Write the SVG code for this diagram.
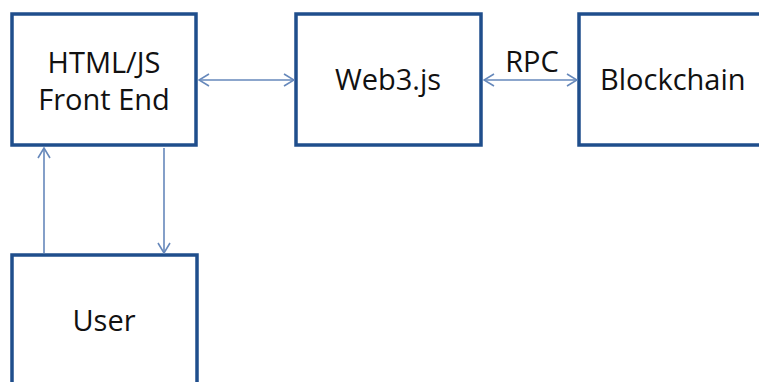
<svg xmlns="http://www.w3.org/2000/svg" width="759" height="382" viewBox="0 0 759 382">
<defs>
<style>
.box{fill:#fff;stroke:#1f4e8c;stroke-width:3.5}
.lbl{font-family:"Open Sans","Liberation Sans",sans-serif;font-size:29px;fill:#111}
.conn{stroke:#6688bb;stroke-width:1.6;fill:none}
</style>
<marker id="ah" viewBox="0 0 12 14" refX="11" refY="7" markerWidth="12" markerHeight="14" markerUnits="userSpaceOnUse" orient="auto-start-reverse">
<path d="M1,1 L11,7 L1,13" fill="none" stroke="#6688bb" stroke-width="1.6"/>
</marker>
</defs>
<rect width="759" height="382" fill="#fff"/>
<g id="frontend">
<rect class="box" x="12" y="14" width="184" height="131"/>
<text class="lbl" x="104" y="73" text-anchor="middle">HTML/JS</text>
<text class="lbl" x="104" y="110" text-anchor="middle">Front End</text>
</g>
<g id="web3">
<rect class="box" x="296" y="14" width="185" height="131"/>
<text class="lbl" x="388" y="90" text-anchor="middle">Web3.js</text>
</g>
<g id="blockchain">
<rect class="box" x="579" y="14" width="200" height="131"/>
<text class="lbl" x="600" y="90">Blockchain</text>
</g>
<g id="user">
<rect class="box" x="12" y="255" width="185" height="140"/>
<text class="lbl" x="104" y="331" text-anchor="middle">User</text>
</g>
<g id="connectors">
<line class="conn" x1="199" y1="80" x2="294" y2="80" marker-start="url(#ah)" marker-end="url(#ah)"/>
<line class="conn" x1="484" y1="80" x2="577" y2="80" marker-start="url(#ah)" marker-end="url(#ah)"/>
<text class="lbl" x="532" y="72" text-anchor="middle">RPC</text>
<line class="conn" x1="44" y1="253" x2="44" y2="148" marker-end="url(#ah)"/>
<line class="conn" x1="164" y1="148" x2="164" y2="253" marker-end="url(#ah)"/>
</g>
</svg>
